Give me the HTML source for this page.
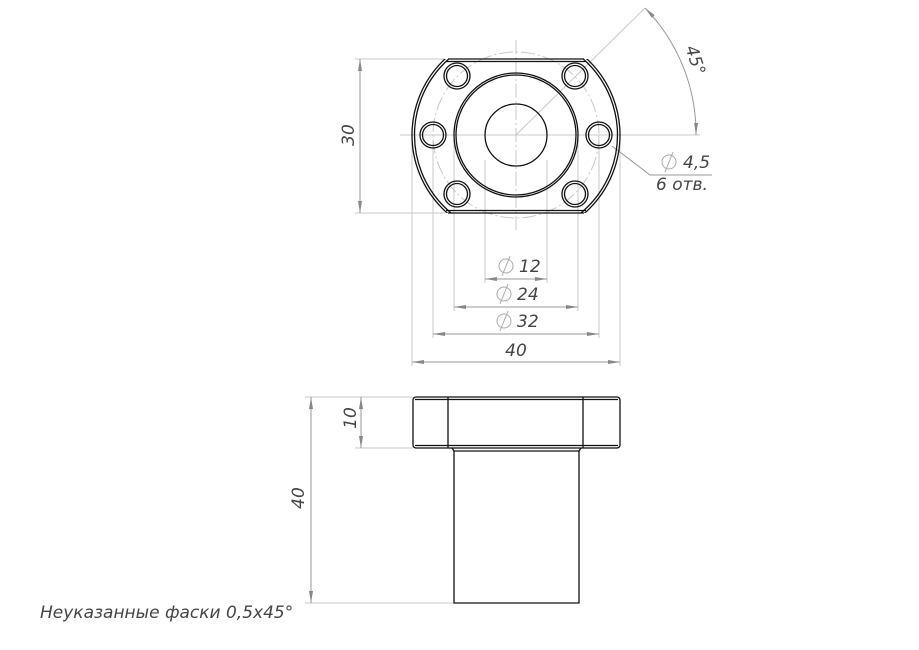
<!DOCTYPE html>
<html><head><style>
html,body{margin:0;padding:0;background:#fff;width:919px;height:650px;overflow:hidden}
text{font-family:"DejaVu Sans","Liberation Sans",sans-serif;font-style:italic;fill:#444}
</style></head><body>
<svg width="919" height="650" viewBox="0 0 919 650" xmlns="http://www.w3.org/2000/svg">
<defs>
<marker id="a" viewBox="0 0 12 4" refX="12" refY="2" markerWidth="12" markerHeight="4" orient="auto-start-reverse" markerUnits="userSpaceOnUse"><path d="M0,0 L12,2 L0,4z" fill="#888"/></marker>
<clipPath id="c"><rect x="400" y="59" width="240" height="154"/></clipPath>
<g id="d"><circle cx="0" cy="0" r="7" fill="none" stroke="#aaa" stroke-width="1"/><line x1="-4" y1="10" x2="4" y2="-10" stroke="#aaa" stroke-width="1"/></g>
</defs>
<g stroke="#c8c8c8" stroke-width="1" fill="none">
<line x1="516" y1="40" x2="516" y2="230" stroke-dasharray="14,3,2,3"/>
<line x1="400" y1="135" x2="700" y2="135"/>
<circle cx="516" cy="135" r="83" stroke-dasharray="14,3,2,3"/>
<line x1="516" y1="135" x2="645" y2="8"/>
<line x1="355" y1="59" x2="445" y2="59"/>
<line x1="355" y1="213" x2="445" y2="213"/>
<line x1="485" y1="160" x2="485" y2="283"/>
<line x1="547" y1="160" x2="547" y2="283"/>
<line x1="454" y1="140" x2="454" y2="311"/>
<line x1="578" y1="140" x2="578" y2="311"/>
<line x1="433" y1="140" x2="433" y2="338"/>
<line x1="599" y1="140" x2="599" y2="338"/>
<line x1="412" y1="140" x2="412" y2="366"/>
<line x1="620" y1="140" x2="620" y2="366"/>
<line x1="305" y1="397" x2="413" y2="397"/>
<line x1="355" y1="448" x2="413" y2="448"/>
<line x1="305" y1="603" x2="454" y2="603"/>
<polyline points="612,146 650,175 712,175" stroke="#999"/>
</g>
<g stroke="#999" stroke-width="1" fill="none">
<line x1="360" y1="59" x2="360" y2="213" marker-start="url(#a)" marker-end="url(#a)"/>
<line x1="485" y1="279" x2="547" y2="279" marker-start="url(#a)" marker-end="url(#a)"/>
<line x1="454" y1="307" x2="578" y2="307" marker-start="url(#a)" marker-end="url(#a)"/>
<line x1="433" y1="334" x2="599" y2="334" marker-start="url(#a)" marker-end="url(#a)"/>
<line x1="412" y1="362" x2="620" y2="362" marker-start="url(#a)" marker-end="url(#a)"/>
<line x1="361" y1="397" x2="361" y2="448" marker-start="url(#a)" marker-end="url(#a)"/>
<line x1="311" y1="397" x2="311" y2="603" marker-start="url(#a)" marker-end="url(#a)"/>
<path d="M645,8 A180,180 0 0 1 696,135" marker-start="url(#a)" marker-end="url(#a)"/>
</g>
<g stroke="#111" fill="none" stroke-width="1.3">
<g clip-path="url(#c)">
<circle cx="516" cy="135" r="104"/>
<circle cx="516" cy="135" r="101.5"/>
</g>
<line x1="448" y1="59" x2="584" y2="59"/><line x1="446" y1="61.5" x2="586" y2="61.5"/>
<line x1="448" y1="213" x2="584" y2="213"/><line x1="446" y1="210.5" x2="586" y2="210.5"/>
<circle cx="516" cy="135" r="62"/><circle cx="516" cy="135" r="60"/>
<circle cx="516" cy="135" r="31"/>
<circle cx="599" cy="135" r="13"/><circle cx="599" cy="135" r="10.5"/>
<circle cx="433" cy="135" r="13"/><circle cx="433" cy="135" r="10.5"/>
<circle cx="457" cy="76" r="13"/><circle cx="457" cy="76" r="10.5"/>
<circle cx="575" cy="76" r="13"/><circle cx="575" cy="76" r="10.5"/>
<circle cx="457" cy="194" r="13"/><circle cx="457" cy="194" r="10.5"/>
<circle cx="575" cy="194" r="13"/><circle cx="575" cy="194" r="10.5"/>
<rect x="413" y="397" width="207" height="51" rx="3"/>
<line x1="415" y1="399.5" x2="618" y2="399.5"/>
<line x1="415" y1="445.5" x2="618" y2="445.5"/>
<line x1="448" y1="397" x2="448" y2="448"/>
<line x1="583" y1="397" x2="583" y2="448"/>
<polyline points="452,448 454,451 454,603 579,603 579,451 581,448"/>
<line x1="454" y1="451" x2="579" y2="451"/>
</g>
<use href="#d" x="506" y="266"/>
<use href="#d" x="504" y="294"/>
<use href="#d" x="504" y="321"/>
<use href="#d" x="669" y="162"/>
<g font-size="17">
<text x="354" y="135" transform="rotate(-90 354 135)" text-anchor="middle">30</text>
<text x="519" y="272">12</text>
<text x="517" y="300">24</text>
<text x="517" y="327">32</text>
<text x="516" y="356" text-anchor="middle">40</text>
<text x="356" y="418" transform="rotate(-90 356 418)" text-anchor="middle">10</text>
<text x="304" y="498" transform="rotate(-90 304 498)" text-anchor="middle">40</text>
<text x="690" y="62" transform="rotate(72 690 62)" text-anchor="middle">45°</text>
<text x="683" y="168">4,5</text>
<text x="656" y="190">6 отв.</text>
<text x="40" y="618">Неуказанные фаски 0,5x45°</text>
</g>
</svg>
</body></html>
